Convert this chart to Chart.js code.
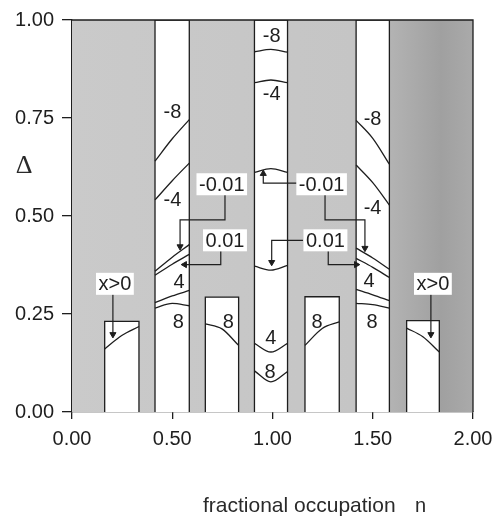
<!DOCTYPE html>
<html lang="en">
<head>
<meta charset="UTF-8">
<title>Phase diagram | fractional occupation</title>
<script src="https://cdn.jsdelivr.net/npm/chart.js"></script>
<style>
    html, body { margin: 0; padding: 0; background: #fff; }
    #wrap { width: 501px; height: 520px; }
</style>
</head>
<body>
<div id="wrap"><canvas id="phaseChart" width="501" height="520"></canvas></div>
<script>
// axis ticks
const xTicks = [0, 0.5, 1, 1.5, 2];
const yTicks = [0, 0.25, 0.5, 0.75, 1];

// white strips running the full height: [n from, n to]
const stripLeft = [0.414, 0.585];
const stripCenter = [0.91, 1.075];
const stripRight = [1.417, 1.583];

// white boxes standing on the n axis: [n from, n to, top]
const boxXLeft = [0.163, 0.334, 0.231];
const boxEightLeft = [0.665, 0.831, 0.293];
const boxEightRight = [1.162, 1.333, 0.294];
const boxXRight = [1.669, 1.832, 0.233];

// contour lines, [n, delta] pairs
const curveM8Left = [[0.414, 0.640], [0.50, 0.697], [0.585, 0.746]];
const curveM4Left = [[0.414, 0.541], [0.50, 0.590], [0.585, 0.635]];
const curveM001Left = [[0.414, 0.359], [0.50, 0.395], [0.585, 0.427]];
const curveP001Left = [[0.414, 0.349], [0.50, 0.377], [0.585, 0.402]];
const curveP4Left = [[0.414, 0.279], [0.50, 0.296], [0.585, 0.310]];
const curveP8Left = [[0.414, 0.265], [0.50, 0.277], [0.585, 0.271]];

const curveM8Center = [[0.91, 0.919], [0.992, 0.925], [1.075, 0.918]];
const curveM4Center = [[0.91, 0.840], [0.992, 0.847], [1.075, 0.840]];
const curveM001Center = [[0.91, 0.611], [0.992, 0.621], [1.075, 0.611]];
const curveP001Center = [[0.91, 0.372], [0.992, 0.362], [1.075, 0.374]];
const curveP4Center = [[0.91, 0.175], [0.992, 0.153], [1.075, 0.175]];
const curveP8Center = [[0.91, 0.105], [0.992, 0.077], [1.075, 0.103]];

const curveM8Right = [[1.417, 0.744], [1.50, 0.698], [1.583, 0.632]];
const curveM4Right = [[1.417, 0.630], [1.50, 0.585], [1.583, 0.528]];
const curveM001Right = [[1.417, 0.418], [1.50, 0.393], [1.583, 0.364]];
const curveP001Right = [[1.417, 0.392], [1.50, 0.369], [1.583, 0.343]];
const curveP4Right = [[1.417, 0.313], [1.50, 0.299], [1.583, 0.284]];
const curveP8Right = [[1.417, 0.277], [1.50, 0.274], [1.583, 0.265]];

const curveXLeft = [[0.163, 0.161], [0.248, 0.195], [0.334, 0.218]];
const curveEightLeft = [[0.665, 0.225], [0.748, 0.212], [0.831, 0.170]];
const curveEightRight = [[1.162, 0.170], [1.248, 0.213], [1.333, 0.230]];
const curveXRight = [[1.669, 0.214], [1.75, 0.192], [1.832, 0.153]];

// leader arrows, [n, delta] pairs, last one is the tip
const arrowM001Left = [[0.763, 0.554], [0.763, 0.490], [0.539, 0.490], [0.539, 0.422]];
const arrowP001Left = [[0.742, 0.410], [0.742, 0.376], [0.562, 0.376]];
const arrowM001Center = [[1.121, 0.584], [0.954, 0.584], [0.954, 0.608]];
const arrowM001Right = [[1.262, 0.554], [1.262, 0.490], [1.461, 0.490], [1.461, 0.418]];
const arrowP001Center = [[1.152, 0.438], [0.996, 0.438], [0.996, 0.382]];
const arrowP001Right = [[1.278, 0.410], [1.278, 0.376], [1.418, 0.376]];
const arrowXLeft = [[0.204, 0.305], [0.204, 0.198]];
const arrowXRight = [[1.790, 0.305], [1.790, 0.198]];

// contour labels: [text, n, delta]
const plainLabels = [
    ['-8', 0.501, 0.765], ['-4', 0.501, 0.539], ['4', 0.534, 0.330], ['8', 0.530, 0.229],
    ['8', 0.780, 0.229],
    ['-8', 0.996, 0.957], ['-4', 0.996, 0.809], ['4', 0.992, 0.187], ['8', 0.988, 0.102],
    ['8', 1.222, 0.229],
    ['-8', 1.499, 0.747], ['-4', 1.499, 0.520], ['4', 1.481, 0.334], ['8', 1.496, 0.229]
];
const boxedLabels = [
    ['-0.01', 0.747, 0.581], ['0.01', 0.763, 0.438],
    ['-0.01', 1.245, 0.581], ['0.01', 1.264, 0.438],
    ['x>0', 0.214, 0.327], ['x>0', 1.800, 0.327]
];

const INK = '#1e1e1e';
const toPts = arr => arr.map(p => ({ x: p[0], y: p[1] }));

function stripSet(s) {
    return {
        data: [{ x: s[0], y: 0 }, { x: s[0], y: 1 }, { x: s[1], y: 1 }, { x: s[1], y: 0 }],
        fill: 'origin', backgroundColor: '#ffffff', borderColor: INK, borderWidth: 1.3,
        pointRadius: 0, tension: 0, order: 20
    };
}
function boxSet(b) {
    return {
        data: [{ x: b[0], y: 0 }, { x: b[0], y: b[2] }, { x: b[1], y: b[2] }, { x: b[1], y: 0 }],
        fill: 'origin', backgroundColor: '#ffffff', borderColor: INK, borderWidth: 1.3,
        pointRadius: 0, tension: 0, order: 20
    };
}
function curveSet(c) {
    return {
        data: toPts(c), fill: false, borderColor: INK, borderWidth: 1.3,
        pointRadius: 0, cubicInterpolationMode: 'monotone', order: 10
    };
}
function arrowSet(a, rot) {
    const n = a.length;
    return {
        data: toPts(a), fill: false, borderColor: INK, borderWidth: 1.2, tension: 0,
        pointStyle: 'triangle',
        pointRadius: a.map((p, i) => i === n - 1 ? 3.5 : 0),
        pointRotation: a.map((p, i) => i === n - 1 ? rot : 0),
        pointBackgroundColor: INK, pointBorderColor: INK, pointBorderWidth: 1,
        order: 5
    };
}

// gray background over the whole plane, darker towards n = 2
const background = {
    data: [{ x: 0, y: 1 }, { x: 2, y: 1 }],
    fill: 'origin', borderWidth: 0, pointRadius: 0, order: 30,
    backgroundColor: function (ctx) {
        const area = ctx.chart.chartArea;
        if (!area) return '#c6c6c6';
        const g = ctx.chart.ctx.createLinearGradient(area.left, 0, area.right, 0);
        g.addColorStop(0, '#cacaca');
        g.addColorStop(0.7, '#c5c5c5');
        g.addColorStop(0.8, '#b2b2b2');
        g.addColorStop(0.92, '#a0a0a0');
        g.addColorStop(1, '#aaaaaa');
        return g;
    }
};

const datasets = [background,
    stripSet(stripLeft), stripSet(stripCenter), stripSet(stripRight),
    boxSet(boxXLeft), boxSet(boxEightLeft), boxSet(boxEightRight), boxSet(boxXRight)];
[curveM8Left, curveM4Left, curveM001Left, curveP001Left, curveP4Left, curveP8Left,
 curveM8Center, curveM4Center, curveM001Center, curveP001Center, curveP4Center, curveP8Center,
 curveM8Right, curveM4Right, curveM001Right, curveP001Right, curveP4Right, curveP8Right,
 curveXLeft, curveEightLeft, curveEightRight, curveXRight].forEach(c => datasets.push(curveSet(c)));
datasets.push(arrowSet(arrowM001Left, 180), arrowSet(arrowP001Left, 270),
    arrowSet(arrowM001Center, 0), arrowSet(arrowM001Right, 180),
    arrowSet(arrowP001Center, 180), arrowSet(arrowP001Right, 90),
    arrowSet(arrowXLeft, 180), arrowSet(arrowXRight, 180));

// frame on top/right, labels and axis names
const decorations = {
    id: 'decorations',
    afterDatasetsDraw(chart) {
        const { ctx, chartArea: a, scales } = chart;
        ctx.save();
        ctx.strokeStyle = INK;
        ctx.lineWidth = 1.3;
        ctx.beginPath();
        ctx.moveTo(a.left, a.top);
        ctx.lineTo(a.right, a.top);
        ctx.lineTo(a.right, a.bottom);
        ctx.stroke();

        ctx.font = '20px "Liberation Sans", Arial, sans-serif';
        ctx.textAlign = 'center';
        ctx.textBaseline = 'middle';
        ctx.fillStyle = INK;
        plainLabels.forEach(l => {
            ctx.fillText(l[0], scales.x.getPixelForValue(l[1]), scales.y.getPixelForValue(l[2]));
        });
        boxedLabels.forEach(l => {
            const px = scales.x.getPixelForValue(l[1]);
            const py = scales.y.getPixelForValue(l[2]);
            const w = ctx.measureText(l[0]).width + 5;
            ctx.fillStyle = '#ffffff';
            ctx.fillRect(px - w / 2, py - 11, w, 22);
            ctx.fillStyle = INK;
            ctx.fillText(l[0], px, py + 1);
        });
        ctx.restore();
    },
    afterDraw(chart) {
        const ctx = chart.ctx;
        ctx.save();
        ctx.fillStyle = '#2a2a2a';
        ctx.textBaseline = 'alphabetic';
        ctx.textAlign = 'left';
        ctx.font = '21px "Liberation Sans", Arial, sans-serif';
        ctx.fillText('fractional occupation', 203, 512);
        ctx.font = '20px "Liberation Sans", Arial, sans-serif';
        ctx.fillText('n', 415, 512);
        ctx.textAlign = 'center';
        ctx.textBaseline = 'middle';
        ctx.font = '26px "Liberation Serif", "Times New Roman", serif';
        ctx.fillText('\u0394', 24, 166);
        ctx.restore();
    }
};

new Chart(document.getElementById('phaseChart'), {
    type: 'scatter',
    data: { datasets: datasets.map(d => Object.assign({ showLine: true }, d)) },
    options: {
        responsive: false,
        animation: false,
        events: [],
        layout: { padding: { top: 17, right: 28, left: 0, bottom: 0 } },
        plugins: { legend: { display: false }, tooltip: { enabled: false } },
        scales: {
            x: {
                type: 'linear', min: 0, max: 2,
                afterBuildTicks: s => { s.ticks = xTicks.map(v => ({ value: v })); },
                afterFit: s => { s.height = 108; },
                ticks: {
                    callback: v => v.toFixed(2), color: INK, padding: 8, maxRotation: 0,
                    font: { size: 20, family: '"Liberation Sans", Arial, sans-serif' }
                },
                grid: { drawOnChartArea: false, drawTicks: true, tickLength: 7, color: INK, lineWidth: 1.3 },
                border: { display: true, color: INK, width: 1.3 }
            },
            y: {
                type: 'linear', min: 0, max: 1,
                afterBuildTicks: s => { s.ticks = yTicks.map(v => ({ value: v })); },
                afterFit: s => { s.width = 72; },
                ticks: {
                    callback: v => v.toFixed(2), color: INK, padding: 8,
                    font: { size: 20, family: '"Liberation Sans", Arial, sans-serif' }
                },
                grid: { drawOnChartArea: false, drawTicks: true, tickLength: 10, color: INK, lineWidth: 1.3 },
                border: { display: true, color: INK, width: 1.3 }
            }
        }
    },
    plugins: [decorations]
});
</script>
</body>
</html>
